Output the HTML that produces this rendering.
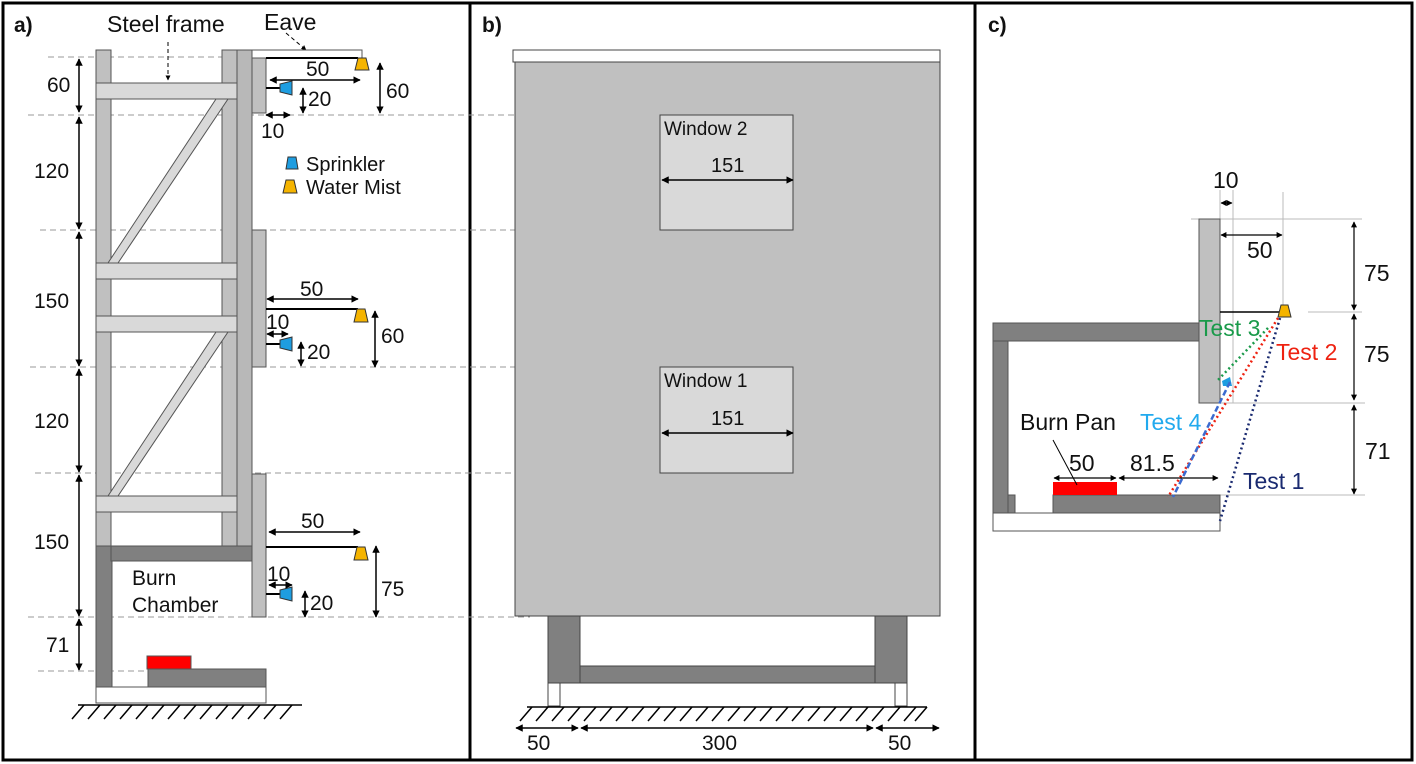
<!DOCTYPE html>
<html><head><meta charset="utf-8"><style>html,body{margin:0;padding:0;background:#fff}svg{display:block}text{font-family:"Liberation Sans",Arial,sans-serif;font-size:21px;fill:#111}.c text{font-size:23px}</style></head>
<body>
<svg width="1416" height="764" viewBox="0 0 1416 764" xmlns="http://www.w3.org/2000/svg">
<defs>
<marker id="ah" viewBox="0 0 10 10" refX="9" refY="5" markerWidth="5" markerHeight="5" orient="auto-start-reverse"><path d="M0,0 L10,5 L0,10 z" fill="#000"/></marker>
</defs>
<g fill="none" stroke="#000" stroke-width="3">
<rect x="3" y="3" width="1409" height="757"/>
<line x1="470" y1="3" x2="470" y2="760"/>
<line x1="975" y1="3" x2="975" y2="760"/>
</g>
<g stroke="#999" stroke-width="1" stroke-dasharray="6,4">
<line x1="48" y1="57" x2="252" y2="57"/>
<line x1="28" y1="115" x2="660" y2="115"/>
<line x1="40" y1="230" x2="660" y2="230"/>
<line x1="30" y1="367" x2="660" y2="367"/>
<line x1="35" y1="473" x2="660" y2="473"/>
<line x1="28" y1="617" x2="530" y2="617"/>
<line x1="38" y1="671" x2="200" y2="671"/>
</g>
<text x="14" y="32" style="font-weight:bold;font-size:21px">a)</text>
<text x="107" y="32" style="font-size:23px">Steel frame</text>
<text x="264" y="30" style="font-size:23px">Eave</text>
<line x1="168" y1="42" x2="168" y2="80" stroke="#000" stroke-dasharray="4,3" marker-end="url(#ah)"/>
<line x1="286" y1="33" x2="306" y2="50" stroke="#000" stroke-dasharray="4,3" marker-end="url(#ah)"/>
<g stroke="#555" stroke-width="1">
<rect x="96" y="50" width="15" height="496" fill="#c0c0c0"/>
<rect x="222" y="50" width="15" height="496" fill="#c0c0c0"/>
<polygon points="216,99 228,99 118,263 108,263" fill="#d9d9d9"/>
<polygon points="216,332 228,332 118,496 108,496" fill="#d9d9d9"/>
<rect x="96" y="83" width="141" height="16" fill="#d9d9d9"/>
<rect x="96" y="263" width="141" height="16" fill="#d9d9d9"/>
<rect x="96" y="316" width="141" height="16" fill="#d9d9d9"/>
<rect x="96" y="496" width="141" height="16" fill="#d9d9d9"/>
<rect x="237" y="50" width="15" height="496" fill="#b8b8b8"/>
<rect x="252" y="50" width="110" height="8" fill="#fff"/>
<rect x="252" y="58" width="14" height="55" fill="#c0c0c0"/>
<rect x="252" y="230" width="14" height="137" fill="#c0c0c0"/>
<rect x="252" y="474" width="14" height="143" fill="#c0c0c0"/>
<rect x="96" y="546" width="16" height="141" fill="#808080"/>
<rect x="111" y="546" width="141" height="15" fill="#808080"/>
<rect x="96" y="687" width="170" height="16" fill="#fff"/>
<rect x="148" y="669" width="118" height="18" fill="#808080"/>
<rect x="147" y="656" width="44" height="13" fill="#f00"/>
</g>
<g stroke="#000" stroke-width="2">
<line x1="266" y1="58" x2="358" y2="58"/>
<line x1="266" y1="309" x2="358" y2="309"/>
<line x1="266" y1="547" x2="358" y2="547"/>
<line x1="266" y1="88" x2="280" y2="88"/>
<line x1="266" y1="344" x2="280" y2="344"/>
<line x1="266" y1="594" x2="280" y2="594"/>
</g>
<g stroke="#333" stroke-width="1">
<polygon points="358,58 366,58 369,70 355,70" fill="#f5b400"/>
<polygon points="357,309 365,309 368,322 354,322" fill="#f5b400"/>
<polygon points="357,547 365,547 368,560 354,560" fill="#f5b400"/>
<polygon points="280,84 292,81 292,95 280,92" fill="#1e9de0"/>
<polygon points="280,340 292,337 292,351 280,348" fill="#1e9de0"/>
<polygon points="280,590 292,587 292,601 280,598" fill="#1e9de0"/>
<polygon points="288,157 296,157 298,169 286,169" fill="#1e9de0"/>
<polygon points="286,180 294,180 297,193 283,193" fill="#f5b400"/>
</g>
<text x="306" y="171" style="font-size:20px">Sprinkler</text>
<text x="306" y="194" style="font-size:20px">Water Mist</text>
<g stroke="#000" stroke-width="1.5" marker-start="url(#ah)" marker-end="url(#ah)">
<line x1="79" y1="59" x2="79" y2="112"/>
<line x1="79" y1="117" x2="79" y2="229"/>
<line x1="79" y1="232" x2="79" y2="366"/>
<line x1="79" y1="369" x2="79" y2="472"/>
<line x1="79" y1="475" x2="79" y2="616"/>
<line x1="79" y1="619" x2="79" y2="670"/>
<line x1="270" y1="80" x2="360" y2="80"/>
<line x1="303" y1="88" x2="303" y2="113"/>
<line x1="380" y1="63" x2="380" y2="113"/>
<line x1="266" y1="115" x2="290" y2="115"/>
<line x1="267" y1="299" x2="358" y2="299"/>
<line x1="267" y1="334" x2="288" y2="334"/>
<line x1="301" y1="342" x2="301" y2="366"/>
<line x1="375" y1="311" x2="375" y2="367"/>
<line x1="269" y1="532" x2="360" y2="532"/>
<line x1="269" y1="585" x2="292" y2="585"/>
<line x1="305" y1="591" x2="305" y2="617"/>
<line x1="376" y1="546" x2="376" y2="617"/>
</g>
<text x="47" y="92">60</text>
<text x="34" y="178">120</text>
<text x="34" y="308">150</text>
<text x="34" y="428">120</text>
<text x="34" y="549">150</text>
<text x="46" y="652">71</text>
<text x="306" y="76">50</text>
<text x="308" y="106">20</text>
<text x="386" y="98">60</text>
<text x="261" y="138">10</text>
<text x="300" y="296">50</text>
<text x="266" y="329">10</text>
<text x="307" y="359">20</text>
<text x="381" y="343">60</text>
<text x="301" y="528">50</text>
<text x="267" y="581">10</text>
<text x="310" y="610">20</text>
<text x="381" y="596">75</text>
<text x="132" y="585">Burn</text>
<text x="132" y="612">Chamber</text>
<g stroke="#000" stroke-width="1.5">
<line x1="78" y1="705" x2="302" y2="705"/>
<path d="M84,705 l-12,14 M100,705 l-12,14 M116,705 l-12,14 M132,705 l-12,14 M148,705 l-12,14 M164,705 l-12,14 M180,705 l-12,14 M196,705 l-12,14 M212,705 l-12,14 M228,705 l-12,14 M244,705 l-12,14 M260,705 l-12,14 M276,705 l-12,14 M292,705 l-12,14"/>
</g>
<text x="482" y="32" style="font-weight:bold;font-size:21px">b)</text>
<g stroke="#444" stroke-width="1">
<rect x="513" y="50" width="427" height="12" fill="#fff"/>
<rect x="515" y="62" width="425" height="554" fill="#c0c0c0"/>
<rect x="660" y="115" width="133" height="115" fill="#d9d9d9"/>
<rect x="660" y="367" width="133" height="106" fill="#d9d9d9"/>
<rect x="548" y="616" width="32" height="67" fill="#808080"/>
<rect x="875" y="616" width="32" height="67" fill="#808080"/>
<rect x="580" y="666" width="295" height="17" fill="#808080"/>
<rect x="548" y="683" width="12" height="23" fill="#fff"/>
<rect x="895" y="683" width="12" height="23" fill="#fff"/>
</g>
<text x="664" y="135" style="font-size:19px">Window 2</text>
<text x="664" y="387" style="font-size:19px">Window 1</text>
<text x="711" y="172" style="font-size:20px">151</text>
<text x="711" y="425" style="font-size:20px">151</text>
<g stroke="#000" stroke-width="1.5" marker-start="url(#ah)" marker-end="url(#ah)">
<line x1="662" y1="180" x2="793" y2="180"/>
<line x1="662" y1="433" x2="793" y2="433"/>
<line x1="516" y1="728" x2="578" y2="728"/>
<line x1="581" y1="728" x2="873" y2="728"/>
<line x1="876" y1="728" x2="939" y2="728"/>
</g>
<text x="527" y="750">50</text>
<text x="702" y="750">300</text>
<text x="888" y="750">50</text>
<g stroke="#000" stroke-width="1.5">
<line x1="527" y1="707" x2="927" y2="707"/>
<path d="M532,707 l-12,14 M548,707 l-12,14 M564,707 l-12,14 M580,707 l-12,14 M596,707 l-12,14 M612,707 l-12,14 M628,707 l-12,14 M644,707 l-12,14 M660,707 l-12,14 M676,707 l-12,14 M692,707 l-12,14 M708,707 l-12,14 M724,707 l-12,14 M740,707 l-12,14 M756,707 l-12,14 M772,707 l-12,14 M788,707 l-12,14 M804,707 l-12,14 M820,707 l-12,14 M836,707 l-12,14 M852,707 l-12,14 M868,707 l-12,14 M884,707 l-12,14 M900,707 l-12,14 M916,707 l-12,14 M927,707 l-12,14"/>
</g>
<text x="988" y="32" style="font-weight:bold;font-size:21px">c)</text>
<g stroke="#bbb" stroke-width="1">
<line x1="1233" y1="190" x2="1233" y2="403"/>
<line x1="1283" y1="192" x2="1283" y2="310"/>
<line x1="1220" y1="190" x2="1220" y2="219"/>
<line x1="1191" y1="219" x2="1362" y2="219"/>
<line x1="1308" y1="312" x2="1362" y2="312"/>
<line x1="1220" y1="403" x2="1365" y2="403"/>
<line x1="1220" y1="495" x2="1365" y2="495"/>
</g>
<g stroke="#555" stroke-width="1">
<rect x="1199" y="219" width="21" height="184" fill="#c0c0c0"/>
<rect x="993" y="323" width="206" height="18" fill="#808080"/>
<rect x="993" y="341" width="15" height="172" fill="#808080"/>
<rect x="1008" y="495" width="7" height="18" fill="#808080"/>
<rect x="1053" y="495" width="167" height="18" fill="#808080"/>
<rect x="993" y="513" width="227" height="18" fill="#fff"/>
<rect x="1053" y="482" width="64" height="13" fill="#f00" stroke="none"/>
</g>
<line x1="1220" y1="312" x2="1279" y2="312" stroke="#000" stroke-width="1.5"/>
<polygon points="1281,305 1288,305 1291,317 1278,317" fill="#f5b400" stroke="#333"/>
<polygon points="1222,381 1230,377 1232,386 1223,386" fill="#1e9de0"/>
<g stroke-width="2.5" fill="none" stroke-dasharray="2,3">
<line x1="1280" y1="318" x2="1220" y2="521" stroke="#1a2a70"/>
<line x1="1278" y1="318" x2="1168" y2="497" stroke="#e21"/>
<line x1="1268" y1="328" x2="1218" y2="380" stroke="#1a9a4a"/>
</g>
<line x1="1230" y1="382" x2="1173" y2="497" stroke="#3a6ad0" stroke-width="2.5" stroke-dasharray="6,3"/>
<g stroke="#000" stroke-width="1.2" marker-start="url(#ah)" marker-end="url(#ah)">
<line x1="1221" y1="203" x2="1232" y2="203"/>
<line x1="1221" y1="235" x2="1282" y2="235"/>
<line x1="1354" y1="222" x2="1354" y2="310"/>
<line x1="1354" y1="314" x2="1354" y2="400"/>
<line x1="1354" y1="405" x2="1354" y2="494"/>
<line x1="1054" y1="478" x2="1116" y2="478"/>
<line x1="1119" y1="478" x2="1218" y2="478"/>
</g>
<line x1="1053" y1="440" x2="1077" y2="485" stroke="#000" stroke-width="1"/>
<g class="c">
<text x="1213" y="188">10</text>
<text x="1247" y="258">50</text>
<text x="1364" y="281">75</text>
<text x="1364" y="362">75</text>
<text x="1365" y="459">71</text>
<text x="1199" y="336" style="fill:#1a9a4a">Test 3</text>
<text x="1276" y="360" style="fill:#e21">Test 2</text>
<text x="1140" y="430" style="fill:#22aaee">Test 4</text>
<text x="1243" y="489" style="fill:#1a2a70">Test 1</text>
<text x="1020" y="430">Burn Pan</text>
<text x="1069" y="471">50</text>
<text x="1130" y="471">81.5</text>
</g>
</svg>
</body></html>
